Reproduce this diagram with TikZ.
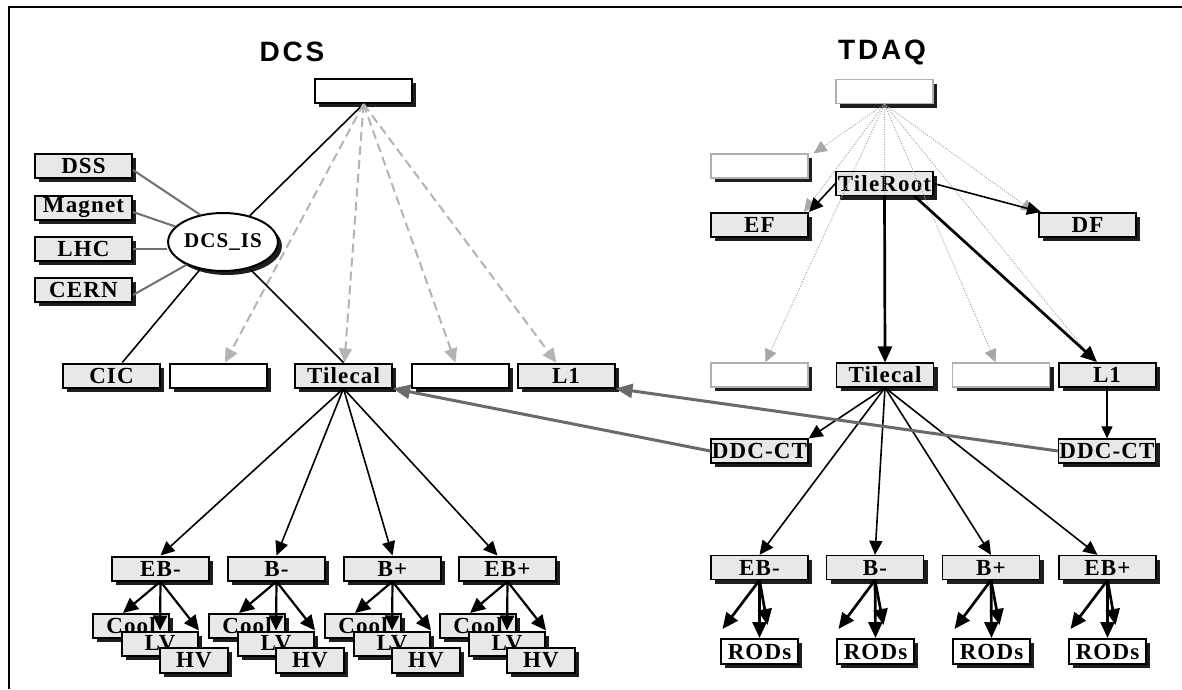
\documentclass[tikz,border=0pt]{standalone}
\usepackage{fontspec}
\newfontfamily\lblfont[LetterSpace=5]{Liberation Serif}
\newfontfamily\ttlfont[LetterSpace=10]{Liberation Sans}
\usetikzlibrary{shapes.geometric,shadows,arrows.meta,calc}
\definecolor{boxfill}{HTML}{E8E8E8}
\definecolor{shadowc}{HTML}{1E1E1E}
\definecolor{dashc}{HTML}{B4B4B4}
\definecolor{linkc}{HTML}{707070}
\definecolor{dotc}{HTML}{A8A8A8}
\definecolor{paleborder}{HTML}{B0B0B0}
\definecolor{crossc}{HTML}{6A6A6A}
\begin{document}
\begin{tikzpicture}[x=1pt,y=-1pt,
 lbl/.style={font=\lblfont\bfseries\fontsize{23}{23}\selectfont, text=black},
 base/.style={rectangle, inner sep=0pt, minimum width=97pt, minimum height=24pt,
   drop shadow={shadow xshift=4pt,shadow yshift=-4pt,fill=shadowc,opacity=1}, lbl},
 dbox/.style={base, draw=black, line width=2pt, fill=boxfill},
 dempty/.style={base, draw=black, line width=2pt, fill=white},
 tbox/.style={base, draw=black, line width=1.3pt, fill=boxfill},
 tthick/.style={base, draw=black, line width=2pt, fill=boxfill},
 tempty/.style={base, draw=paleborder, line width=1.3pt, fill=white},
 rodbox/.style={base, draw=black, line width=2pt, fill=white, minimum width=77pt, minimum height=25pt},
 title/.style={font=\ttlfont\bfseries\fontsize{28}{28}\selectfont},
 arr/.style={draw=black, line width=1.6pt, -{Triangle[length=14pt,width=13pt]}},
 arrb/.style={draw=black, line width=2.2pt, -{Triangle[length=15pt,width=14pt]}},
 tarr/.style={draw=black, line width=2.7pt, -{Triangle[length=16pt,width=14pt]}},
 thinarr/.style={draw=black, line width=1.1pt, -{Triangle[length=12pt,width=11pt]}},
 dasharr/.style={draw=dashc, line width=2pt, dash pattern=on 9pt off 5pt, -{Triangle[length=14pt,width=13pt]}},
 dotarr/.style={draw=dotc, line width=1pt, dash pattern=on 1pt off 1.5pt, -{Triangle[length=13pt,width=12pt]}},
 graylink/.style={draw=linkc, line width=2pt},
 crossarr/.style={draw=crossc, line width=3pt, -{Triangle[length=17pt,width=14pt]}},
 plain/.style={draw=black, line width=1.6pt}
]
\useasboundingbox (0,0) rectangle (1182,689);
\fill[white] (0,0) rectangle (1182,689);
\draw[line width=2.5pt] (9,689) -- (9,7) -- (1182,7);

% titles
\node[title] (tdcs) at (292,52) {DCS};
\node[title] (ttdaq) at (882,52) {TDAQ};

% ---------------- DCS ----------------
\node[dempty] (dcsroot) at (363.5,91) {};
\node[dbox] (dss) at (83.5,166) {DSS};
\node[dbox] (magnet) at (83.5,208) {Magnet};
\node[dbox] (lhc) at (83.5,249) {LHC};
\node[dbox] (cern) at (83.5,290) {CERN};
\node[ellipse, draw=black, line width=2pt, fill=white, inner sep=0pt,
      minimum width=89pt, minimum height=58pt, lbl,
      font=\lblfont\bfseries\fontsize{21}{21}\selectfont,
      drop shadow={shadow xshift=4pt,shadow yshift=-4pt,fill=shadowc,opacity=1}]
      (dcsis) at (223,242) {DCS\_IS};
\node[dbox] (cic) at (111.5,375.5) {CIC};
\node[dempty] (e1) at (218,375.5) {};
\node[dbox] (dtile) at (343.5,375.5) {Tilecal};
\node[dempty] (e2) at (460,375.5) {};
\node[dbox] (dl1) at (566,375.5) {L1};
\node[dbox] (deb1) at (160.5,568.5) {EB-};
\node[dbox] (deb2) at (276.5,568.5) {B-};
\node[dbox] (deb3) at (392.5,568.5) {B+};
\node[dbox] (deb4) at (507.5,568.5) {EB+};
\foreach \i/\cx in {1/160.5,2/276.5,3/392.5,4/507.5}{
  \node[dbox, minimum width=76pt] (cool\i) at (\cx-29.5,626) {Cool};
  \node[dbox, minimum width=76pt] (lv\i) at (\cx-0.5,643.5) {LV};
  \node[dbox, minimum width=68pt, minimum height=25pt] (hv\i) at (\cx+33.5,660.5) {HV};
}

% ---------------- TDAQ ----------------
\node[tempty] (troot) at (884.5,91.5) {};
\node[tempty] (te0) at (759.5,166) {};
\node[tbox] (tileroot) at (884.5,183.5) {TileRoot};
\node[tthick] (ef) at (759.5,225) {EF};
\node[tthick] (df) at (1087.5,225) {DF};
\node[tempty] (te1) at (759.5,375) {};
\node[tbox] (ttile) at (885,375) {Tilecal};
\node[tempty] (te2) at (1001,375) {};
\node[tthick] (tl1) at (1107,375) {L1};
\node[tbox] (ddc1) at (759.5,451) {DDC-CT};
\node[tbox] (ddc2) at (1107,451) {DDC-CT};
\node[tbox] (teb1) at (759.5,567.5) {EB-};
\node[tbox] (teb2) at (875,567.5) {B-};
\node[tbox] (teb3) at (991,567.5) {B+};
\node[tbox] (teb4) at (1107.5,567.5) {EB+};
\foreach \i/\cx in {1/759.5,2/875.5,3/991.5,4/1107.5}{
  \node[rodbox] (rods\i) at (\cx,651.5) {RODs};
}

% ---------------- DCS connectors ----------------
\draw[plain] (dcsroot.south) -- (dcsis);
\draw[dasharr] (dcsroot.south) -- (e1);
\draw[dasharr] (dcsroot.south) -- (dtile);
\draw[dasharr] (dcsroot.south) -- (e2);
\draw[dasharr] (dcsroot.south) -- (dl1);
\draw[plain] (dcsis) -- (cic);
\draw[plain] (dcsis) -- (dtile.north);
\draw[graylink] ([yshift=-4pt]dss.east) -- (dcsis.130);
\draw[graylink] ([yshift=-4pt]magnet.east) -- (dcsis.162);
\draw[graylink, line width=2.5pt] (lhc.east) -- (lhc.east -| dcsis.west);
\draw[graylink] ([yshift=-5pt]cern.east) -- (dcsis.212);
\draw[arr] (dtile.south) -- (deb1.north);
\draw[arr] (dtile.south) -- (deb2.north);
\draw[arr] (dtile.south) -- (deb3.north);
\draw[arr] (dtile.south) -- ([xshift=-10pt]deb4.north);
\foreach \i in {1,2,3,4}{
  \draw[arrb] (deb\i.south) -- ([xshift=-8pt]cool\i.north);
  \draw[arrb] (deb\i.south) -- (lv\i.north);
  \draw[arrb] (deb\i.south) -- (lv\i.north east);
}

% ---------------- TDAQ connectors ----------------
\draw[dotarr] (troot.south) -- ([xshift=5pt]te0.north east);
\draw[dotarr] (troot.south) -- ([xshift=-5pt]ef.north east);
\draw[dotarr] (troot.south) -- (te1);
\draw[dotarr] (troot.south) -- (ttile.north);
\draw[dotarr] (troot.south) -- (te2);
\draw[dotarr] (troot.south) -- ([xshift=-12pt]tl1.north);
\draw[dotarr] (troot.south) -- ([xshift=-4pt]df.north west);
\draw[arr] (tileroot.west) -- (ef.north east);
\draw[arr] (tileroot.east) -- ([xshift=3pt]df.north west);
\draw[tarr] (tileroot.south) -- (ttile.north);
\draw[tarr] ([xshift=30pt]tileroot.south) -- ([xshift=-10pt]tl1.north);
\draw[thinarr] (tl1.south) -- (ddc2.north);
\draw[arr] (ttile.south) -- (ddc1.north east);
\draw[arr] (ttile.south) -- (teb1.north);
\draw[arr] (ttile.south) -- (teb2.north);
\draw[arr] (ttile.south) -- (teb3.north);
\draw[arr] (ttile.south) -- ([xshift=-10pt]teb4.north);
\foreach \i in {1,2,3,4}{
  \coordinate (rl\i) at ($(rods\i.north)+(-37,-9)$);
  \coordinate (rr\i) at ($(rods\i.north)+(8,-13)$);
  \draw[tarr] (teb\i.south) -- (rl\i);
  \draw[tarr] (teb\i.south) -- (rods\i.north);
  \draw[tarr] (teb\i.south) -- (rr\i);
}

% cross links
\draw[crossarr] (ddc1.west) -- (dtile.south east);
\draw[crossarr] (ddc2.west) -- (dl1.south east);
\end{tikzpicture}
\end{document}
